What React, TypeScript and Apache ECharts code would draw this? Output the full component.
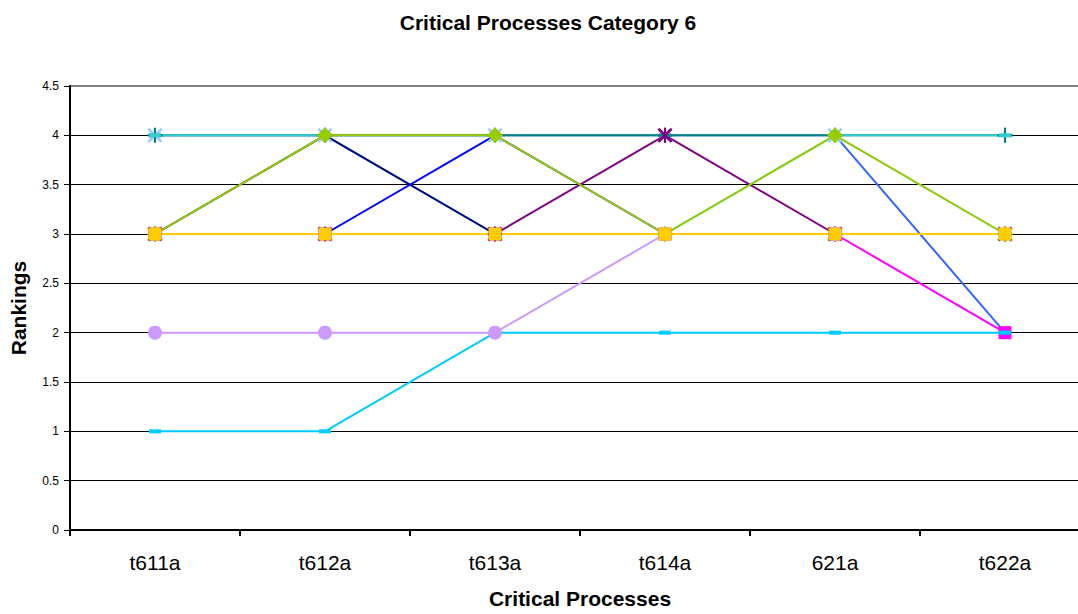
import React, { useEffect, useRef } from 'react';
import * as echarts from 'echarts';

// Processes on the category axis
const categories = ['t611a', 't612a', 't613a', 't614a', '621a', 't622a'];

// Ranking per process for each series (drawn in this order, later on top)
const yellowRanks = [3, 3, 3, 3, 3, 3];
const magentaRanks = [3, 3, 3, 3, 3, 2];
const royalBlueRanks = [4, 4, 4, 4, 4, 2];
const paleBlueRanks = [4, 4, 4, 4, 4, 3];
const tealRanks = [4, 4, 4, 4, 4, 4];
const turquoiseRanks = [4, 4, 3, 3, 4, 4];
const navyRanks = [3, 4, 3, 3, 3, 3];
const blueRanks = [3, 3, 4, 3, 3, 3];
const purpleRanks = [3, 3, 3, 4, 3, 3];
const skyBlueRanks = [1, 1, 2, 2, 2, 2];
const lavenderRanks = [2, 2, 2, 3, 3, 3];
const greenRanks = [3, 4, 4, 3, 4, 3];
const goldRanks = [3, 3, 3, 3, 3, 3];

const FONT = '"Liberation Sans", Arial, Helvetica, sans-serif';

// Marker shapes
const X_PATH = 'path://M0,1.2L1.2,0L5,3.8L8.8,0L10,1.2L6.2,5L10,8.8L8.8,10L5,6.2L1.2,10L0,8.8L3.8,5Z';
const PLUS_PATH = 'path://M4.3,0H5.7V4.3H10V5.7H5.7V10H4.3V5.7H0V4.3H4.3Z';
const STAR_PATH =
  'path://M0,1.2L1.2,0L5,3.8L8.8,0L10,1.2L6.2,5L10,8.8L8.8,10L5,6.2L1.2,10L0,8.8L3.8,5Z M4.3,0H5.7V10H4.3Z';

type SeriesDef = {
  name: string;
  data: number[];
  color: string;
  symbol: string;
  size: number | number[];
};

const seriesDefs: SeriesDef[] = [
  { name: 'Series 3', data: yellowRanks, color: '#FFFF00', symbol: 'triangle', size: 13 },
  { name: 'Series 2', data: magentaRanks, color: '#FF00FF', symbol: 'rect', size: 13 },
  { name: 'Series 17', data: royalBlueRanks, color: '#3366FF', symbol: 'rect', size: [12, 4] },
  { name: 'Series 13', data: paleBlueRanks, color: '#99CCFF', symbol: X_PATH, size: 15 },
  { name: 'Series 7', data: tealRanks, color: '#008080', symbol: PLUS_PATH, size: 15 },
  { name: 'Series 18', data: turquoiseRanks, color: '#33CCCC', symbol: 'rect', size: [12, 4] },
  { name: 'Series 1', data: navyRanks, color: '#000080', symbol: 'diamond', size: 15 },
  { name: 'Series 8', data: blueRanks, color: '#0000FF', symbol: 'rect', size: [12, 4] },
  { name: 'Series 5', data: purpleRanks, color: '#800080', symbol: STAR_PATH, size: 15 },
  { name: 'Series 9', data: skyBlueRanks, color: '#00CCFF', symbol: 'rect', size: [12, 4] },
  { name: 'Series 15', data: lavenderRanks, color: '#CC99FF', symbol: 'circle', size: 14 },
  { name: 'Series 19', data: greenRanks, color: '#99CC00', symbol: 'diamond', size: 16 },
  { name: 'Series 20', data: goldRanks, color: '#FFCC00', symbol: 'rect', size: 13 },
];

export default function App() {
  const ref = useRef<HTMLDivElement>(null);

  useEffect(() => {
    if (!ref.current) return;
    const chart = echarts.init(ref.current, undefined, { renderer: 'svg' });
    const series: any[] = seriesDefs.map((s) => ({
      type: 'line',
      name: s.name,
      data: s.data,
      symbol: s.symbol,
      symbolSize: s.size,
      showAllSymbol: true,
      lineStyle: { color: s.color, width: 2 },
      itemStyle: { color: s.color, borderWidth: 0 },
      emphasis: { disabled: true },
    }));
    // teal plus marker at the last process sits above the turquoise dash
    series.splice(6, 0, {
      type: 'scatter',
      name: 'Series 7 markers',
      data: tealRanks.map((v, i) => (i === tealRanks.length - 1 ? v : null)),
      symbol: PLUS_PATH,
      symbolSize: 15,
      itemStyle: { color: '#008080' },
      emphasis: { disabled: true },
    });
    chart.setOption({
      animation: false,
      backgroundColor: '#ffffff',
      textStyle: { fontFamily: FONT },
      title: {
        text: 'Critical Processes Category 6',
        left: 543,
        top: 7,
        textAlign: 'center',
        textStyle: { fontFamily: FONT, fontSize: 21, fontWeight: 'bold', color: '#000' },
      },
      grid: {
        left: 70,
        top: 86,
        right: 10,
        bottom: 78,
        show: true,
        borderColor: '#808080',
        borderWidth: 2,
        backgroundColor: 'transparent',
      },
      xAxis: {
        type: 'category',
        data: categories,
        boundaryGap: true,
        axisLine: { show: true, lineStyle: { color: '#000', width: 2 } },
        axisTick: { show: true, length: 6, lineStyle: { color: '#000', width: 2 } },
        axisLabel: { color: '#000', fontSize: 21, fontFamily: FONT, margin: 22 },
        splitLine: { show: false },
        name: 'Critical Processes',
        nameLocation: 'middle',
        nameGap: 58,
        nameTextStyle: { fontFamily: FONT, fontSize: 21, fontWeight: 'bold', color: '#000' },
      },
      yAxis: {
        type: 'value',
        min: 0,
        max: 4.5,
        interval: 0.5,
        axisLine: { show: true, lineStyle: { color: '#000', width: 2 } },
        axisTick: { show: true, length: 6, lineStyle: { color: '#000', width: 1 } },
        axisLabel: { color: '#000', fontSize: 12, fontFamily: FONT, margin: 11 },
        splitLine: {
          show: true,
          showMinLine: false,
          showMaxLine: false,
          lineStyle: { color: '#000', width: 1 },
        },
        name: 'Rankings',
        nameLocation: 'middle',
        nameGap: 41,
        nameRotate: 90,
        nameTextStyle: { fontFamily: FONT, fontSize: 21, fontWeight: 'bold', color: '#000' },
      },
      series,
    });
    return () => chart.dispose();
  }, []);

  return (
    <div
      style={{
        position: 'fixed',
        left: 0,
        top: 0,
        width: 1078,
        height: 614,
        overflow: 'hidden',
        background: '#fff',
      }}
    >
      <div ref={ref} style={{ width: 1100, height: 614 }} />
    </div>
  );
}
